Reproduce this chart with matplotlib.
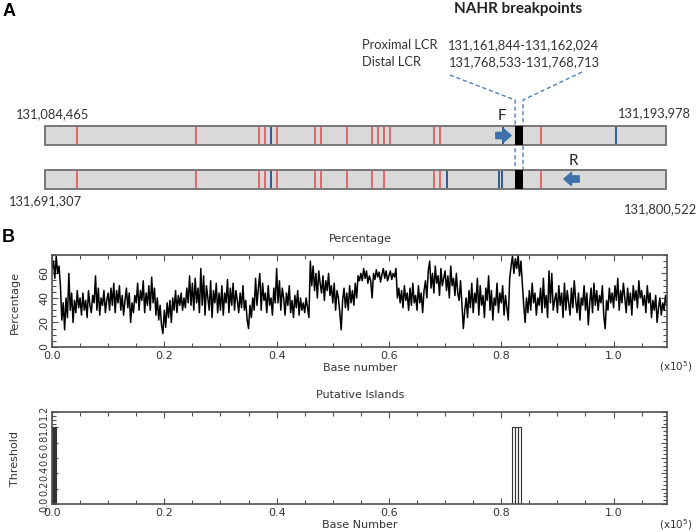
import numpy as np
import matplotlib.pyplot as plt
from matplotlib.ticker import MultipleLocator, FuncFormatter

W, H = 699, 532

# ---- panel A: LCR copies, marks given as bp offsets from each copy start
lcr_span = 109513
prox_coords = ("131,084,465", "131,193,978")
dist_coords = ("131,691,307", "131,800,522")
red_top = [5600, 26600, 37700, 38800, 40900, 47600, 48700, 53300, 57700,
           58700, 59800, 60800, 68600, 69700, 87500]
blue_top = [39900, 80800, 100700]
red_bot = [5600, 26600, 37700, 38800, 40900, 47600, 48700, 53300, 57700,
           59800, 68600, 69700, 87500]
blue_bot = [39900, 70900, 80100, 80600]
breakpoint = (82900, 84300)
primer_f = (79500, 82200)
primer_r = (94200, 91500)
prox_break = "131,161,844-131,162,024"
dist_break = "131,768,533-131,768,713"

# ---- panel B: GC percentage, one value every 250 bp
step = 250
gc_pct = [
    64, 70, 56, 74, 60, 66, 50, 22, 36, 14, 40, 24, 60, 30, 44, 20, 38, 28, 46, 32,
    40, 26, 44, 30, 38, 24, 46, 34, 28, 42, 36, 58, 30, 48, 26, 40, 34, 46, 28, 38,
    44, 30, 48, 34, 52, 28, 46, 36, 50, 30, 42, 26, 38, 48, 32, 44, 20, 36, 28, 42,
    36, 52, 30, 46, 38, 54, 28, 44, 34, 50, 30, 57, 36, 48, 26, 40, 22, 34, 18, 11,
    30, 16, 36, 24, 38, 20, 40, 30, 46, 28, 42, 34, 44, 30, 40, 32, 48, 36, 58, 34,
    52, 30, 56, 36, 48, 28, 64, 34, 58, 26, 50, 40, 30, 54, 24, 46, 36, 52, 28, 44,
    30, 50, 26, 44, 36, 55, 28, 48, 34, 52, 30, 46, 38, 28, 44, 32, 50, 30, 38, 22,
    15, 34, 24, 40, 30, 56, 34, 48, 60, 30, 52, 38, 44, 28, 50, 34, 40, 26, 48, 36,
    64, 36, 54, 30, 48, 40, 26, 44, 34, 50, 28, 38, 24, 42, 32, 46, 26, 40, 30, 36,
    28, 40, 32, 24, 70, 50, 66, 46, 60, 40, 62, 52, 44, 58, 38, 54, 46, 60, 42, 50,
    36, 52, 30, 46, 40, 28, 14, 38, 48, 32, 44, 30, 50, 36, 46, 34, 52, 40, 58, 54,
    60, 54, 64, 56, 62, 52, 58, 54, 40, 60, 55, 63, 57, 61, 53, 59, 64, 56, 62, 54,
    58, 62, 55, 60, 57, 64, 40, 48, 36, 46, 32, 50, 38, 44, 30, 48, 34, 52, 36, 42,
    30, 50, 36, 44, 28, 46, 54, 40, 62, 70, 48, 60, 44, 66, 52, 58, 42, 64, 50, 56,
    62, 46, 58, 40, 66, 50, 56, 42, 60, 44, 38, 54, 34, 15, 30, 40, 24, 46, 32, 52,
    28, 44, 36, 56, 26, 50, 34, 42, 24, 48, 38, 58, 30, 46, 22, 40, 34, 52, 28, 44,
    36, 50, 26, 42, 32, 22, 56, 66, 74, 60, 72, 64, 75, 58, 70, 52, 34, 20, 40, 28,
    46, 30, 52, 36, 44, 26, 40, 34, 48, 28, 56, 32, 42, 24, 62, 36, 60, 30, 38, 44,
    28, 50, 34, 44, 24, 52, 30, 46, 36, 26, 48, 32, 54, 38, 28, 44, 22, 40, 34, 50,
    30, 44, 18, 36, 48, 28, 52, 34, 46, 30, 42, 36, 50, 26, 15, 38, 30, 48, 36, 44,
    32, 50, 38, 56, 30, 46, 36, 52, 40, 28, 48, 34, 44, 26, 50, 38, 46, 32, 54, 40,
    46, 34, 42, 28, 50, 36, 44, 24, 38, 30, 42, 20, 32, 40, 26, 36, 30, 42, 34,
]
# putative island windows (start, end) at threshold 1
islands = [(0, 200), (200, 400), (400, 600), (600, 800),
           (82000, 82400), (82400, 82900), (82900, 83500)]

fig = plt.figure(figsize=(W / 100, H / 100), dpi=100)
fig.patch.set_facecolor('white')


def ftxt(x, y, s, **kw):
    kw.setdefault('va', 'center')
    fig.text(x / W, 1 - y / H, s, **kw)


# ================= panel A
bp_px = lcr_span / 621.0
axA = fig.add_axes([0, 0, 1, 1])
axA.set_xlim(-45 * bp_px, (W - 45) * bp_px)
axA.set_ylim(H, 0)
axA.axis('off')

sans = ['Lato', 'DejaVu Sans']
red = '#e05555'
blue = '#2f5a96'

# dashed guides from the breakpoint text down to the black box
axA.plot([71400, breakpoint[0], breakpoint[0]], [75, 100, 189],
         ls=(0, (3, 2)), color='#4f81bd', lw=1, zorder=1)
axA.plot([94700, breakpoint[1], breakpoint[1]], [72, 100, 189],
         ls=(0, (3, 2)), color='#4f81bd', lw=1, zorder=1)

axA.barh([135.5, 179.5], lcr_span, left=0, height=19, color='#d9d9d9',
         edgecolor='#6e6e6e', lw=1.3, zorder=2)
axA.vlines(red_top, 126.7, 144.3, color=red, lw=1.2, zorder=3)
axA.vlines(blue_top, 126.7, 144.3, color=blue, lw=1.4, zorder=3)
axA.vlines(red_bot, 170.7, 188.3, color=red, lw=1.2, zorder=3)
axA.vlines(blue_bot, 170.7, 188.3, color=blue, lw=1.4, zorder=3)
for yc in (135.5, 179.5):
    axA.bar(breakpoint[0], 19, width=breakpoint[1] - breakpoint[0],
            bottom=yc - 9.5, align='edge', color='black', zorder=4)

arrow_style = 'simple,head_length=0.55,head_width=0.95,tail_width=0.45'
axA.annotate('', xy=(primer_f[1], 135.5), xytext=(primer_f[0], 135.5),
             arrowprops=dict(arrowstyle=arrow_style, color='#3e70aa',
                             shrinkA=0, shrinkB=0, mutation_scale=10), zorder=5)
axA.annotate('', xy=(primer_r[1], 179), xytext=(primer_r[0], 179),
             arrowprops=dict(arrowstyle=arrow_style, color='#3e70aa',
                             shrinkA=0, shrinkB=0, mutation_scale=10), zorder=5)

ftxt(3, 12, 'A', fontsize=13, fontweight='bold', family=['Liberation Sans'])
ftxt(518, 9, 'NAHR breakpoints', fontsize=11, fontweight='bold',
     family=sans, ha='center', color='#222222')
ftxt(362, 45, 'Proximal LCR', fontsize=9.3, family=sans, color='#333333')
ftxt(448, 45, prox_break, fontsize=9.3, family=sans, color='#333333')
ftxt(362, 62, 'Distal LCR', fontsize=9.3, family=sans, color='#333333')
ftxt(449, 62, dist_break, fontsize=9.3, family=sans, color='#333333')
ftxt(16, 114, prox_coords[0], fontsize=9.3, family=sans, color='#333333')
ftxt(618, 113, prox_coords[1], fontsize=9.3, family=sans, color='#333333')
ftxt(9, 201, dist_coords[0], fontsize=9.3, family=sans, color='#333333')
ftxt(624, 209, dist_coords[1], fontsize=9.3, family=sans, color='#333333')
ftxt(502, 116, 'F', fontsize=11, family=sans, ha='center', color='#222222')
ftxt(573, 161, 'R', fontsize=11, family=sans, ha='center', color='#222222')

# ================= panel B
ftxt(2, 237, 'B', fontsize=13, fontweight='bold', family=['Liberation Sans'])

x = np.arange(len(gc_pct)) * step
frame = '#505050'
bfont = 'DejaVu Sans'


def style(ax, ysize=8):
    ax.set_xlim(0, lcr_span)
    ax.xaxis.set_major_locator(MultipleLocator(20000))
    ax.xaxis.set_minor_locator(MultipleLocator(5000))
    ax.xaxis.set_major_formatter(FuncFormatter(lambda v, p: f'{v / 1e5:.1f}'))
    ax.tick_params(which='both', direction='in', top=True, right=True,
                   color=frame, width=0.8, labelsize=8, labelcolor='#333333')
    ax.tick_params(which='major', length=4, pad=3)
    ax.tick_params(which='minor', length=3)
    ax.tick_params(axis='y', pad=2, labelsize=ysize)
    for sp in ax.spines.values():
        sp.set_color(frame)
        sp.set_linewidth(1.2)
    for lab in ax.get_yticklabels():
        lab.set_rotation(90)
        lab.set_va('center')


ax1 = fig.add_axes([52 / W, 1 - 347 / H, 615 / W, 92 / H])
ax1.plot(x, gc_pct, color='black', lw=1.1)
ax1.set_ylim(0, 75)
ax1.set_yticks([0, 20, 40, 60])
ax1.yaxis.set_minor_locator(MultipleLocator(5))
style(ax1)

ax2 = fig.add_axes([52 / W, 1 - 504 / H, 615 / W, 92 / H])
for s, e in islands:
    ax2.plot([s, s, e, e], [0, 1, 1, 0], color='#333333', lw=0.8)
ax2.set_ylim(0, 1.2)
ax2.set_yticks(np.arange(0, 1.21, 0.2))
ax2.yaxis.set_major_formatter(FuncFormatter(lambda v, p: f'{v:.1f}'))
ax2.yaxis.set_minor_locator(MultipleLocator(0.05))
style(ax2, ysize=7)

tk = dict(fontsize=8, family=bfont, color='#333333')
ftxt(360, 239, 'Percentage', ha='center', **tk)
ftxt(360, 368, 'Base number', ha='center', **tk)
ftxt(360, 395, 'Putative Islands', ha='center', **tk)
ftxt(360, 525, 'Base Number', ha='center', **tk)
ftxt(15, 302, 'Percentage', ha='center', rotation=90, **tk)
ftxt(15, 458, 'Threshold', ha='center', rotation=90, **tk)
sc = dict(fontsize=7.5, family=bfont, color='#333333')
ftxt(659, 367, r'(x10$^{5}$)', **sc)
ftxt(659, 525, r'(x10$^{5}$)', **sc)

fig.savefig('out.png', dpi=100, facecolor='white')
